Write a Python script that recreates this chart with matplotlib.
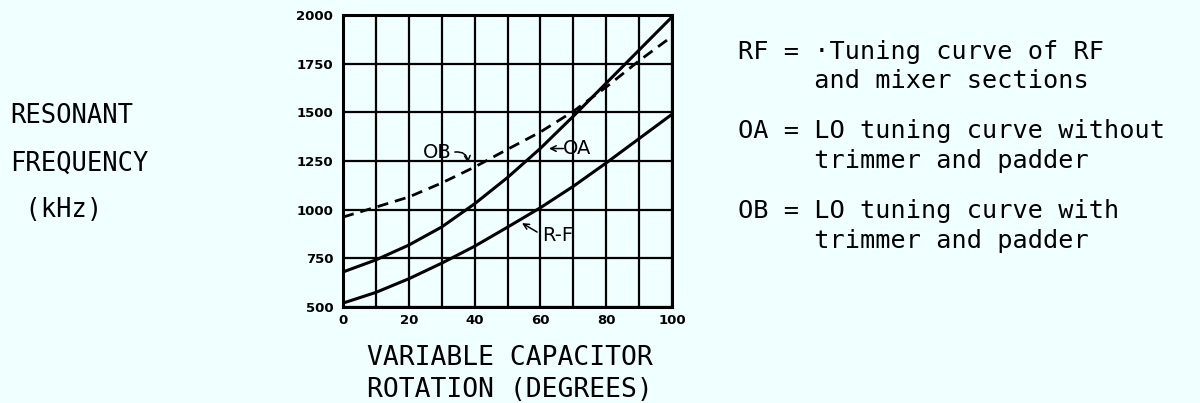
import matplotlib
matplotlib.use('Agg')
import matplotlib.pyplot as plt

# values
rotation = [0, 10, 20, 30, 40, 50, 60, 70, 80, 90, 100]
rf_curve = [520, 575, 645, 725, 812, 910, 1010, 1120, 1240, 1365, 1490]
oa_curve = [680, 742, 818, 911, 1030, 1165, 1315, 1480, 1650, 1820, 1990]
ob_curve = [962, 1013, 1065, 1137, 1219, 1310, 1399, 1505, 1630, 1765, 1890]

x_ticks = [0, 20, 40, 60, 80, 100]
y_ticks = [500, 750, 1000, 1250, 1500, 1750, 2000]

legend_lines = [
    "RF = \u00b7Tuning curve of RF",
    "     and mixer sections",
    "OA = LO tuning curve without",
    "     trimmer and padder",
    "OB = LO tuning curve with",
    "     trimmer and padder",
]
legend_base = [59, 88, 138, 168, 218, 248]

bg = '#f0ffff'
mono = 'DejaVu Sans Mono'
W, H = 1200, 403

fig = plt.figure(figsize=(12, 4.03), dpi=100, facecolor=bg)
ax = fig.add_axes([343 / W, 1 - 307 / H, 329 / W, 292 / H])
ax.set_facecolor(bg)

ax.plot(rotation, rf_curve, color='black', lw=2.2, solid_capstyle='round')
ax.plot(rotation, oa_curve, color='black', lw=2.2, solid_capstyle='round')
ax.plot(rotation, ob_curve, color='black', lw=2.0, dashes=(4, 2.5))

ax.set_xlim(0, 100)
ax.set_ylim(500, 2000)
ax.set_xticks(x_ticks)
ax.set_xticks(range(0, 101, 10), minor=True)
ax.set_yticks(y_ticks)
ax.grid(True, which='both', color='black', lw=1.6)
ax.tick_params(which='both', length=0)
ax.tick_params(axis='y', pad=7)
ax.tick_params(axis='x', pad=5)
for lab in ax.get_xticklabels() + ax.get_yticklabels():
    lab.set_fontweight('bold')
    lab.set_fontsize(9.5)
for s in ax.spines.values():
    s.set_linewidth(2.2)

# curve labels + their little arrows
arrow = dict(arrowstyle='->', lw=1.1, color='black', shrinkA=0, shrinkB=0)
ax.text(28.6, 1293, 'OB', fontsize=14, ha='center', va='center')
ax.annotate('', xy=(38, 1240), xytext=(34, 1296),
            arrowprops=dict(arrow, connectionstyle='arc3,rad=-0.5'))
ax.text(71.1, 1314, 'OA', fontsize=14, ha='center', va='center')
ax.annotate('', xy=(62.6, 1314), xytext=(67, 1314), arrowprops=arrow)
ax.text(65.2, 867, 'R-F', fontsize=14, ha='center', va='center')
ax.annotate('', xy=(54.4, 931), xytext=(59, 885), arrowprops=arrow)

# left axis title
for txt, y in zip(["RESONANT", "FREQUENCY", " (kHz)"], [123, 171, 217]):
    fig.text(10 / W, 1 - y / H, txt, family=mono, fontsize=18.4, va='baseline', ha='left')

# bottom axis title
for txt, y in zip(["VARIABLE CAPACITOR", "ROTATION (DEGREES)"], [365, 397]):
    fig.text(367 / W, 1 - y / H, txt, family=mono, fontsize=19, va='baseline', ha='left')

# key on the right
for txt, y in zip(legend_lines, legend_base):
    fig.text(738 / W, 1 - y / H, txt, family=mono, fontsize=18.2, va='baseline', ha='left')

fig.savefig('out.png', dpi=100, facecolor=bg)
